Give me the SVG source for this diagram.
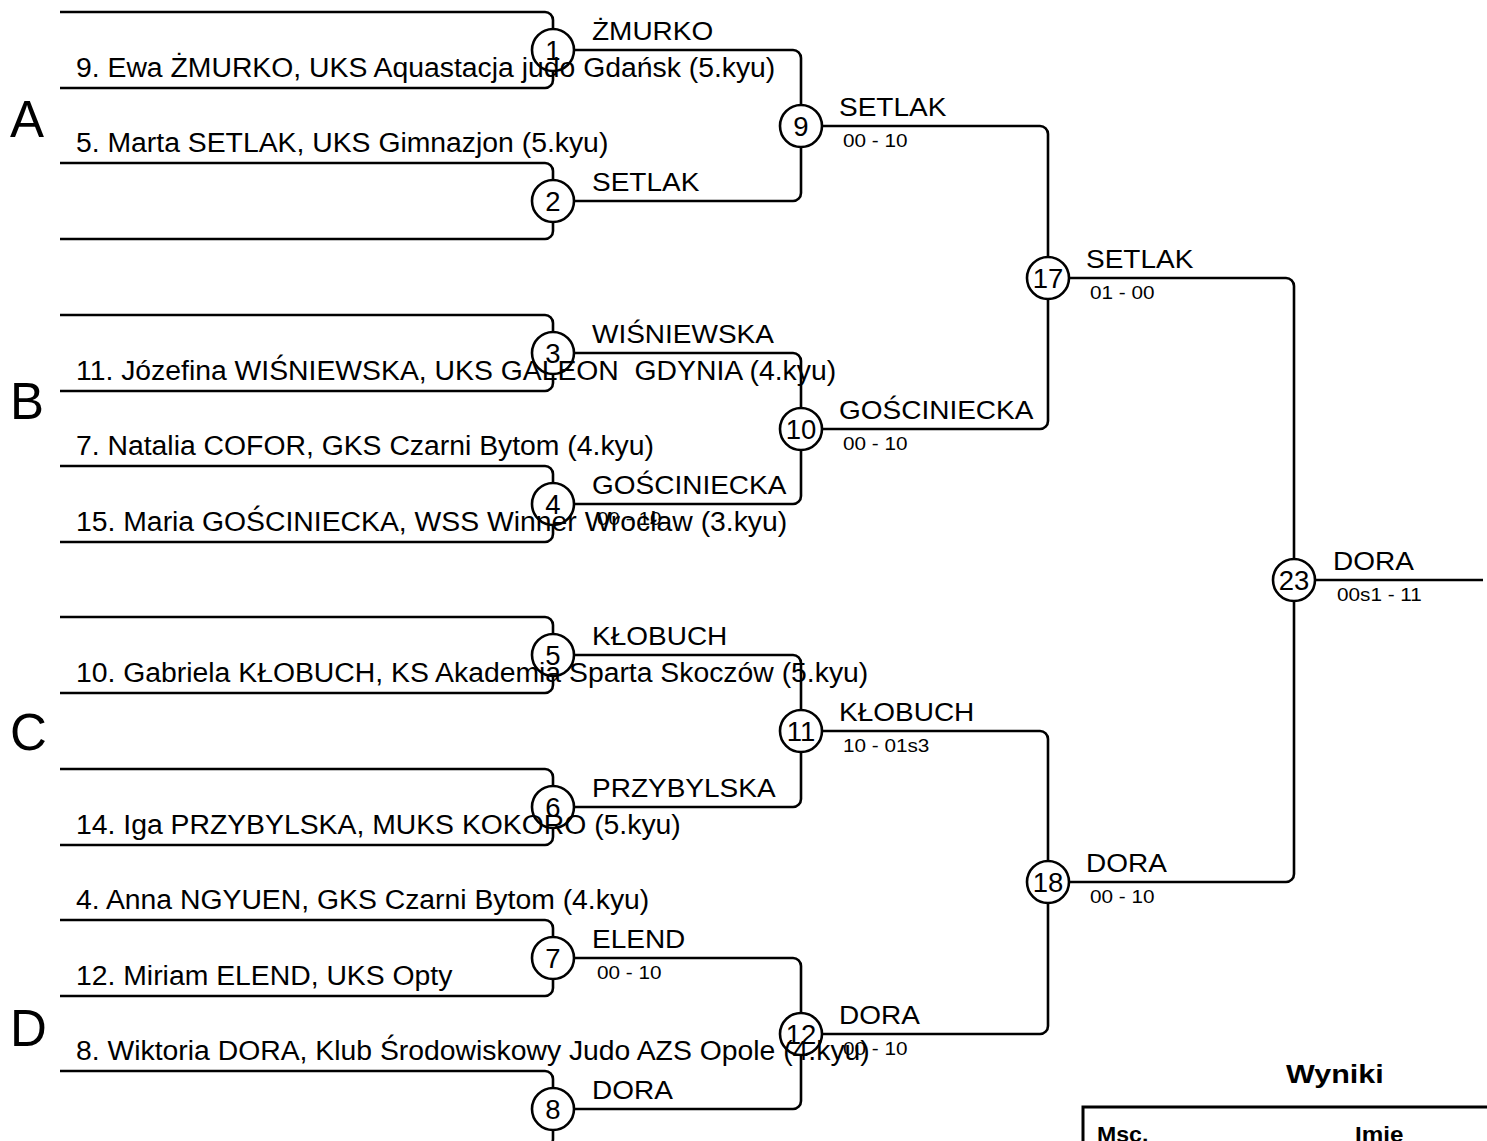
<svg xmlns="http://www.w3.org/2000/svg" width="1487" height="1141" viewBox="0 0 1487 1141">
<style>
text{font-family:"Liberation Sans",Arial,sans-serif;fill:#000}
.ln{fill:none;stroke:#000;stroke-width:2.6}
.c{fill:none;stroke:#000;stroke-width:2.6}
.nm{font-size:27px}
.w{font-size:25px}
.s{font-size:18.5px}
.n{font-size:27.5px;text-anchor:middle}
.g{font-size:51px}
.b{font-weight:bold}
</style>
<rect width="1487" height="1141" fill="#fff"/>
<g id="connectors">
<path class="ln" d="M60 12H545A8 8 0 0 1 553 20V29M60 88H545A8 8 0 0 0 553 80V71"/>
<path class="ln" d="M60 163H545A8 8 0 0 1 553 171V180M60 239H545A8 8 0 0 0 553 231V222"/>
<path class="ln" d="M60 315H545A8 8 0 0 1 553 323V332M60 391H545A8 8 0 0 0 553 383V374"/>
<path class="ln" d="M60 466H545A8 8 0 0 1 553 474V483M60 542H545A8 8 0 0 0 553 534V525"/>
<path class="ln" d="M60 617H545A8 8 0 0 1 553 625V634M60 693H545A8 8 0 0 0 553 685V676"/>
<path class="ln" d="M60 769H545A8 8 0 0 1 553 777V786M60 845H545A8 8 0 0 0 553 837V828"/>
<path class="ln" d="M60 920H545A8 8 0 0 1 553 928V937M60 996H545A8 8 0 0 0 553 988V979"/>
<path class="ln" d="M60 1071H545A8 8 0 0 1 553 1079V1088M60 1147H545A8 8 0 0 0 553 1139V1130"/>
<path class="ln" d="M574 50H793A8 8 0 0 1 801 58V105M574 201H793A8 8 0 0 0 801 193V147"/>
<path class="ln" d="M574 353H793A8 8 0 0 1 801 361V408M574 504H793A8 8 0 0 0 801 496V450"/>
<path class="ln" d="M574 655H793A8 8 0 0 1 801 663V710M574 807H793A8 8 0 0 0 801 799V752"/>
<path class="ln" d="M574 958H793A8 8 0 0 1 801 966V1013M574 1109H793A8 8 0 0 0 801 1101V1055"/>
<path class="ln" d="M822 126H1040A8 8 0 0 1 1048 134V257M822 429H1040A8 8 0 0 0 1048 421V299"/>
<path class="ln" d="M822 731H1040A8 8 0 0 1 1048 739V861M822 1034H1040A8 8 0 0 0 1048 1026V903"/>
<path class="ln" d="M1069 278H1286A8 8 0 0 1 1294 286V559M1069 882H1286A8 8 0 0 0 1294 874V601"/>
<path class="ln" d="M1315 580H1483"/>
</g>
<g id="groups">
<text class="g" x="10" y="137">A</text>
<text class="g" x="10" y="419">B</text>
<text class="g" x="10" y="750">C</text>
<text class="g" x="10" y="1046">D</text>
</g>
<g id="players">
<text class="nm" transform="translate(76 77) scale(1.05 1)">9. Ewa ŻMURKO, UKS Aquastacja judo Gdańsk (5.kyu)</text>
<text class="nm" transform="translate(76 152) scale(1.05 1)">5. Marta SETLAK, UKS Gimnazjon (5.kyu)</text>
<text class="nm" transform="translate(76 380) scale(1.05 1)" xml:space="preserve">11. Józefina WIŚNIEWSKA, UKS GALEON  GDYNIA (4.kyu)</text>
<text class="nm" transform="translate(76 455) scale(1.05 1)">7. Natalia COFOR, GKS Czarni Bytom (4.kyu)</text>
<text class="nm" transform="translate(76 531) scale(1.05 1)">15. Maria GOŚCINIECKA, WSS Winner Wrocław (3.kyu)</text>
<text class="nm" transform="translate(76 682) scale(1.05 1)">10. Gabriela KŁOBUCH, KS Akademia Sparta Skoczów (5.kyu)</text>
<text class="nm" transform="translate(76 834) scale(1.05 1)">14. Iga PRZYBYLSKA, MUKS KOKORO (5.kyu)</text>
<text class="nm" transform="translate(76 909) scale(1.05 1)">4. Anna NGYUEN, GKS Czarni Bytom (4.kyu)</text>
<text class="nm" transform="translate(76 985) scale(1.05 1)">12. Miriam ELEND, UKS Opty</text>
<text class="nm" transform="translate(76 1060) scale(1.05 1)">8. Wiktoria DORA, Klub Środowiskowy Judo AZS Opole (4.kyu)</text>
</g>
<g id="m1"><circle class="c" cx="553" cy="50" r="21"/><text class="n" x="553" y="60">1</text><text class="w" transform="translate(592 40) scale(1.12 1)">ŻMURKO</text></g>
<g id="m2"><circle class="c" cx="553" cy="201" r="21"/><text class="n" x="553" y="211">2</text><text class="w" transform="translate(592 191) scale(1.12 1)">SETLAK</text></g>
<g id="m3"><circle class="c" cx="553" cy="353" r="21"/><text class="n" x="553" y="363">3</text><text class="w" transform="translate(592 343) scale(1.12 1)">WIŚNIEWSKA</text></g>
<g id="m4"><circle class="c" cx="553" cy="504" r="21"/><text class="n" x="553" y="514">4</text><text class="w" transform="translate(592 494) scale(1.12 1)">GOŚCINIECKA</text><text class="s" transform="translate(597 525) scale(1.12 1)">00 - 10</text></g>
<g id="m5"><circle class="c" cx="553" cy="655" r="21"/><text class="n" x="553" y="665">5</text><text class="w" transform="translate(592 645) scale(1.12 1)">KŁOBUCH</text></g>
<g id="m6"><circle class="c" cx="553" cy="807" r="21"/><text class="n" x="553" y="817">6</text><text class="w" transform="translate(592 797) scale(1.12 1)">PRZYBYLSKA</text></g>
<g id="m7"><circle class="c" cx="553" cy="958" r="21"/><text class="n" x="553" y="968">7</text><text class="w" transform="translate(592 948) scale(1.12 1)">ELEND</text><text class="s" transform="translate(597 979) scale(1.12 1)">00 - 10</text></g>
<g id="m8"><circle class="c" cx="553" cy="1109" r="21"/><text class="n" x="553" y="1119">8</text><text class="w" transform="translate(592 1099) scale(1.12 1)">DORA</text></g>
<g id="m9"><circle class="c" cx="801" cy="126" r="21"/><text class="n" x="801" y="136">9</text><text class="w" transform="translate(839 116) scale(1.12 1)">SETLAK</text><text class="s" transform="translate(843 147) scale(1.12 1)">00 - 10</text></g>
<g id="m10"><circle class="c" cx="801" cy="429" r="21"/><text class="n" x="801" y="439">10</text><text class="w" transform="translate(839 419) scale(1.12 1)">GOŚCINIECKA</text><text class="s" transform="translate(843 450) scale(1.12 1)">00 - 10</text></g>
<g id="m11"><circle class="c" cx="801" cy="731" r="21"/><text class="n" x="801" y="741">11</text><text class="w" transform="translate(839 721) scale(1.12 1)">KŁOBUCH</text><text class="s" transform="translate(843 752) scale(1.12 1)">10 - 01s3</text></g>
<g id="m12"><circle class="c" cx="801" cy="1034" r="21"/><text class="n" x="801" y="1044">12</text><text class="w" transform="translate(839 1024) scale(1.12 1)">DORA</text><text class="s" transform="translate(843 1055) scale(1.12 1)">00 - 10</text></g>
<g id="m17"><circle class="c" cx="1048" cy="278" r="21"/><text class="n" x="1048" y="288">17</text><text class="w" transform="translate(1086 268) scale(1.12 1)">SETLAK</text><text class="s" transform="translate(1090 299) scale(1.12 1)">01 - 00</text></g>
<g id="m18"><circle class="c" cx="1048" cy="882" r="21"/><text class="n" x="1048" y="892">18</text><text class="w" transform="translate(1086 872) scale(1.12 1)">DORA</text><text class="s" transform="translate(1090 903) scale(1.12 1)">00 - 10</text></g>
<g id="m23"><circle class="c" cx="1294" cy="580" r="21"/><text class="n" x="1294" y="590">23</text><text class="w" transform="translate(1333 570) scale(1.12 1)">DORA</text><text class="s" transform="translate(1337 601) scale(1.12 1)">00s1 - 11</text></g>
<g id="results">
<text class="b" style="font-size:25px" transform="translate(1286 1083) scale(1.22 1)">Wyniki</text>
<path d="M1083 1141V1107H1487" fill="none" stroke="#000" stroke-width="3"/>
<text class="b" style="font-size:22px" transform="translate(1097 1142) scale(1.05 1)">Msc.</text>
<text class="b" style="font-size:22px" transform="translate(1355 1142) scale(1.1 1)">Imie</text>
</g>
</svg>
